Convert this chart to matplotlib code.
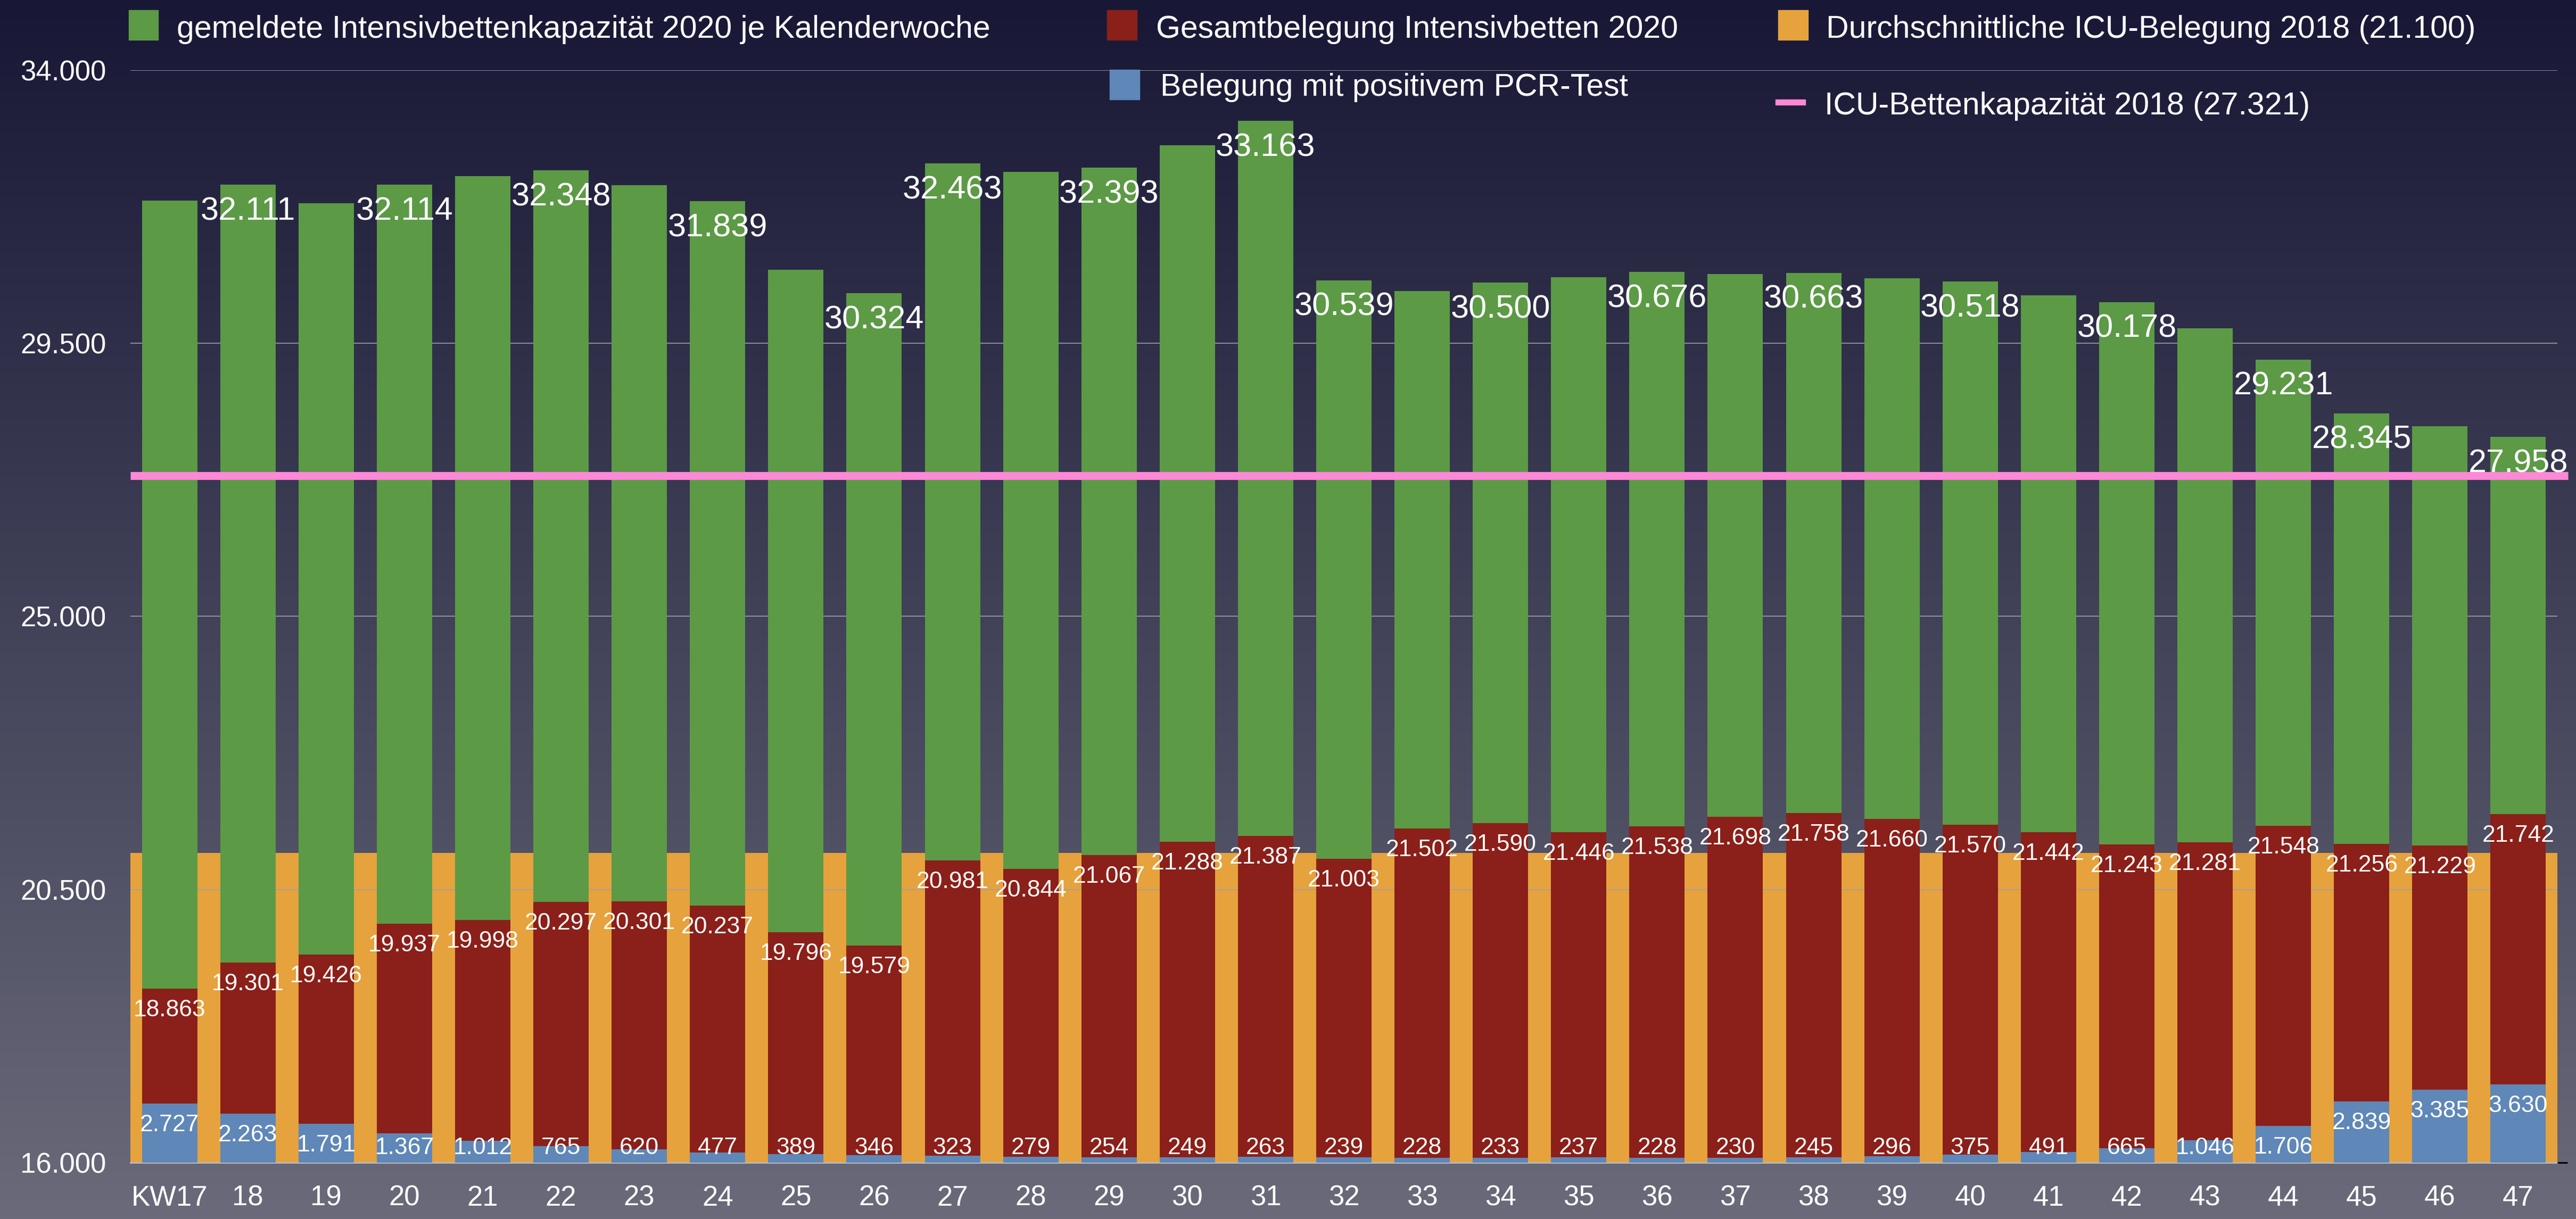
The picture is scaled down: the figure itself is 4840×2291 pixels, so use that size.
import numpy as np
import matplotlib
matplotlib.use("Agg")
import matplotlib.pyplot as plt
from matplotlib.colors import LinearSegmentedColormap
from matplotlib.patches import Rectangle

plt.rcParams['font.family'] = ['Liberation Sans', 'DejaVu Sans']

# ---- data -------------------------------------------------------------
weeks = list(range(17, 48))
week_labels = ["KW17"] + [str(w) for w in weeks[1:]]

capacity_2020 = [31849, 32111, 31812, 32114, 32252, 32348, 32105, 31839, 30709, 30324,
                 32463, 32322, 32393, 32760, 33163, 30539, 30358, 30500, 30587, 30676,
                 30639, 30663, 30569, 30518, 30288, 30178, 29745, 29231, 28345, 28131, 27958]
capacity_label_shown = [False, True, False, True, False, True, False, True, False, True,
                        True, False, True, False, True, True, False, True, False, True,
                        False, True, False, True, False, True, False, True, True, False, True]
occupancy_2020 = [18863, 19301, 19426, 19937, 19998, 20297, 20301, 20237, 19796, 19579,
                  20981, 20844, 21067, 21288, 21387, 21003, 21502, 21590, 21446, 21538,
                  21698, 21758, 21660, 21570, 21442, 21243, 21281, 21548, 21256, 21229, 21742]
pcr_positive = [2727, 2263, 1791, 1367, 1012, 765, 620, 477, 389, 346,
                323, 279, 254, 249, 263, 239, 228, 233, 237, 228,
                230, 245, 296, 375, 491, 665, 1046, 1706, 2839, 3385, 3630]
avg_icu_2018 = 21100
icu_capacity_2018 = 27321
y_ticks = [16000, 20500, 25000, 29500, 34000]

series_names = [
    "gemeldete Intensivbettenkapazität 2020 je Kalenderwoche",
    "Gesamtbelegung Intensivbetten 2020",
    "Durchschnittliche ICU-Belegung 2018 ({})",
    "Belegung mit positivem PCR-Test",
    "ICU-Bettenkapazität 2018 ({})",
]


def fmt(v):
    return f"{v:,}".replace(",", ".")


# ---- style ------------------------------------------------------------
GREEN = "#5c9a46"
RED = "#8a2019"
ORANGE = "#e6a23c"
BLUE = "#5f87b8"
PINK = "#ff88d6"
GRID = "#a0a0ac"

W, H = 4840, 2291
fig = plt.figure(figsize=(W / 100, H / 100), dpi=100)

# vertical background gradient
bg = fig.add_axes([0, 0, 1, 1], zorder=-10)
cmap = LinearSegmentedColormap.from_list(
    "bg", [(24 / 255, 24 / 255, 54 / 255), (106 / 255, 106 / 255, 122 / 255)])
bg.imshow(np.linspace(0, 1, 512).reshape(-1, 1), aspect="auto", cmap=cmap,
          extent=[0, 1, 0, 1], origin="upper")
bg.axis("off")

ax_left, ax_right, ax_top, ax_bottom = 245, 4805, 132, 2185
ax = fig.add_axes([ax_left / W, 1 - ax_bottom / H,
                   (ax_right - ax_left) / W, (ax_bottom - ax_top) / H])
ax.set_facecolor("none")

x = np.arange(len(weeks))
bar_w = 0.707

ax.bar(x, [avg_icu_2018] * len(x), width=1.0, color=ORANGE, zorder=1)
ax.bar(x, capacity_2020, width=bar_w, color=GREEN, zorder=2)
ax.bar(x, occupancy_2020, width=bar_w, color=RED, zorder=2.1)
ax.plot([-0.5, len(x) - 0.5 + 20 / 147.1], [icu_capacity_2018] * 2, color=PINK,
        lw=10.8, solid_capstyle="butt", zorder=3, clip_on=False)

ax.set_xlim(-0.5, len(x) - 0.5)
ax.set_ylim(y_ticks[0], y_ticks[-1])
ax.set_axisbelow("line")
ax.yaxis.grid(True, color=GRID, lw=1.2)
ax.xaxis.grid(False)

ax.set_yticks(y_ticks)
ax.set_yticklabels([fmt(t) for t in y_ticks])
ax.set_xticks(x)
ax.set_xticklabels(week_labels)
ax.tick_params(axis="y", length=0, pad=33, labelsize=38, labelcolor="white")
ax.tick_params(axis="x", length=0, pad=30, labelsize=38, labelcolor="white")
for side in ("top", "left", "right"):
    ax.spines[side].set_visible(False)
ax.spines["bottom"].set_color("#b8b8b8")
ax.spines["bottom"].set_linewidth(2.2)

# PCR-positive occupancy on its own scale
ax2 = ax.twinx()
ax2.set_ylim(0, 50600)
ax2.bar(x, pcr_positive, width=bar_w, color=BLUE, zorder=2)
ax2.set_yticks([0])
ax2.set_yticklabels([""])
ax2.tick_params(axis="y", right=True, length=14, width=2.2, color="black")
for side in ax2.spines:
    ax2.spines[side].set_visible(False)

# value labels
for xi, v, show in zip(x, capacity_2020, capacity_label_shown):
    if show:
        ax.annotate(fmt(v), (xi, v), xytext=(0, -66), textcoords="offset pixels",
                    ha="center", va="baseline", fontsize=44, color="white", zorder=6)
for xi, v in zip(x, occupancy_2020):
    ax.annotate(fmt(v), (xi, v), xytext=(0, -52), textcoords="offset pixels",
                ha="center", va="baseline", fontsize=32, color="white", zorder=6)
y0_px = ax2.transData.transform((0, 0))[1]
for xi, v in zip(x, pcr_positive):
    top_px = ax2.transData.transform((0, v))[1] - y0_px
    off = -min(52, top_px - 16)
    ax2.annotate(fmt(v), (xi, v), xytext=(0, off), textcoords="offset pixels",
                 ha="center", va="baseline", fontsize=32, color="white", zorder=6)


# legend
def fx(px):
    return px / W


def fy(py):
    return 1 - py / H


legend_items = [
    (GREEN, (242, 19, 55, 56), (332, 71), series_names[0]),
    (RED, (2080, 19, 56, 56), (2172, 71), series_names[1]),
    (ORANGE, (3341, 19, 56, 56), (3431, 71), series_names[2].format(fmt(avg_icu_2018))),
    (BLUE, (2085, 131, 56, 56), (2180, 180), series_names[3]),
    (PINK, (3336, 187, 56, 10), (3428, 215), series_names[4].format(fmt(icu_capacity_2018))),
]
for color, (px, py, pw, ph), (tx, ty), label in legend_items:
    fig.add_artist(Rectangle((fx(px), fy(py + ph)), pw / W, ph / H,
                             transform=fig.transFigure, color=color))
    fig.text(fx(tx), fy(ty), label, fontsize=42.5, color="white",
             ha="left", va="baseline")

fig.savefig("out.png", dpi=100)
